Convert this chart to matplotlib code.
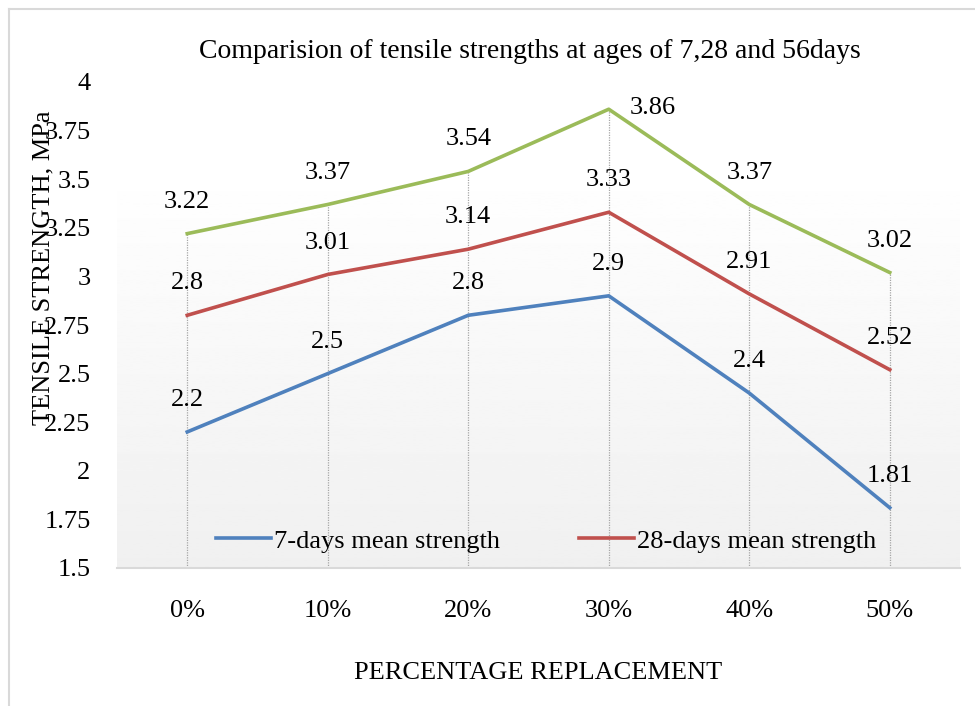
import matplotlib
matplotlib.use("Agg")
import matplotlib.pyplot as plt
import numpy as np

# data
categories = ['0%', '10%', '20%', '30%', '40%', '50%']
days7 = [2.2, 2.5, 2.8, 2.9, 2.4, 1.81]
days28 = [2.8, 3.01, 3.14, 3.33, 2.91, 2.52]
days56 = [3.22, 3.37, 3.54, 3.86, 3.37, 3.02]
y_ticks = [1.5, 1.75, 2, 2.25, 2.5, 2.75, 3, 3.25, 3.5, 3.75, 4]

plt.rcParams['font.family'] = ['Liberation Serif', 'DejaVu Serif']
fs = 19

fig = plt.figure(figsize=(9.75, 7.06), dpi=100)
ax = fig.add_axes([117 / 975, 1 - 568 / 706, (960 - 117) / 975, (568 - 82) / 706])

x = np.arange(len(categories))

# light gradient in the plot area (white at top, light grey at bottom)
grad = np.linspace(0.94, 1.0, 256).reshape(-1, 1)
ax.imshow(grad, cmap='gray', vmin=0, vmax=1, aspect='auto', origin='lower',
          extent=[-0.5, 5.5, 1.5, 3.573], zorder=0)

# drop lines from the top series down to the axis
ax.vlines(x, 1.5, days56, colors='#a6a6a6', linestyles=(0, (1, 1)), linewidth=0.9, zorder=1)

ax.plot(x, days7, color='#4F81BD', lw=2.6, label='7-days mean strength', zorder=3)
ax.plot(x, days28, color='#C0504D', lw=2.6, label='28-days mean strength', zorder=3)
ax.plot(x, days56, color='#9BBB59', lw=2.6, zorder=3)

# data labels
for series in (days7, days28, days56):
    for i, v in enumerate(series):
        if series is days56 and i == 3:
            ax.annotate(f'{v:g}', (i, v), xytext=(15, 1), textcoords='offset points',
                        ha='left', va='center', fontsize=fs)
        else:
            ax.annotate(f'{v:g}', (i, v), xytext=(0, 23), textcoords='offset points',
                        ha='center', va='center', fontsize=fs)

ax.set_xlim(-0.5, 5.5)
ax.set_ylim(1.5, 4)
ax.set_xticks(x)
ax.set_xticklabels(categories)
ax.set_yticks(y_ticks)
ax.set_yticklabels([f'{t:g}' for t in y_ticks])
ax.tick_params(axis='x', length=0, pad=23, labelsize=fs)
ax.tick_params(axis='y', length=0, pad=19, labelsize=fs)
for s in ('top', 'right', 'left'):
    ax.spines[s].set_visible(False)
ax.spines['bottom'].set_color('#d9d9d9')
ax.spines['bottom'].set_linewidth(1.5)
ax.set_facecolor('white')

ax.legend(loc='center', bbox_to_anchor=(0.509, 0.056), ncol=2, frameon=False,
          fontsize=fs, handlelength=2.1, handletextpad=0.1, columnspacing=3.0,
          borderpad=0, borderaxespad=0)

fig.text(530 / 975, 1 - 52 / 706, 'Comparision of tensile strengths at ages of 7,28 and 56days',
         ha='center', va='center', fontsize=20)
fig.text(43 / 975, 1 - 268 / 706, 'TENSILE STRENGTH, MPa', rotation=90,
         ha='center', va='center', fontsize=fs)
fig.text(538 / 975, 1 - 673 / 706, 'PERCENTAGE REPLACEMENT', ha='center', va='center', fontsize=fs)

# chart area border (left and top edges visible)
fig.add_artist(plt.Line2D([9 / 975, 9 / 975], [0, 1 - 9 / 706], color='#d9d9d9', lw=1.5))
fig.add_artist(plt.Line2D([9 / 975, 1], [1 - 9 / 706, 1 - 9 / 706], color='#d9d9d9', lw=1.5))

fig.savefig('out.png', dpi=100)
